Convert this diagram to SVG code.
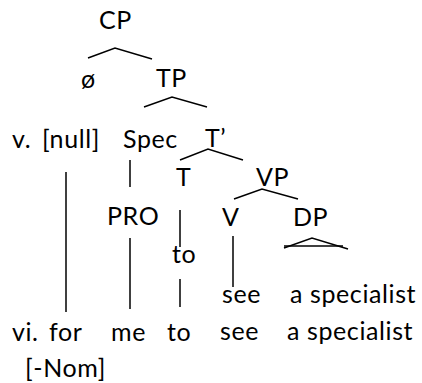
<svg xmlns="http://www.w3.org/2000/svg" width="422" height="383" viewBox="0 0 422 383">
<style>
text{font-family:Lato,"Open Sans",sans-serif;font-size:25px;letter-spacing:0.6px;fill:#000}
.e{stroke:#000;stroke-width:1.5;fill:none}
</style>
<rect width="422" height="383" fill="#fff"/>
<g id="connectors">
<polyline class="e" points="88,58 115,48 152,59"/>
<polyline class="e" points="144,107 172,97 207,107"/>
<polyline class="e" points="180,160 208,149 243,160"/>
<polyline class="e" points="234,199 262,189 298,199"/>
<polyline class="e" points="284,248 312,238 348,249"/>
<line class="e" x1="284" y1="246" x2="343" y2="246"/>
<line class="e" x1="66" y1="172" x2="66" y2="312"/>
<line class="e" x1="130" y1="160" x2="130" y2="187"/>
<line class="e" x1="130" y1="238" x2="130" y2="309"/>
<line class="e" x1="180" y1="210" x2="180" y2="247"/>
<line class="e" x1="180" y1="279" x2="180" y2="307"/>
<line class="e" x1="233" y1="236" x2="233" y2="287"/>
</g>
<g id="CP"><text x="99" y="29">CP</text></g>
<g id="null-C"><text x="81" y="88">ø</text></g>
<g id="TP"><text x="156" y="87">TP</text></g>
<g id="v-null"><text x="12" y="148">v.</text><text x="42" y="148">[null]</text></g>
<g id="Spec"><text x="123" y="148">Spec</text></g>
<g id="Tbar"><text x="205" y="147">T’</text></g>
<g id="T"><text x="176" y="186">T</text></g>
<g id="VP"><text x="256" y="186">VP</text></g>
<g id="PRO"><text x="107" y="225">PRO</text></g>
<g id="V"><text x="222" y="226">V</text></g>
<g id="DP"><text x="293" y="226">DP</text></g>
<g id="to"><text x="172" y="263">to</text></g>
<g id="see"><text x="222" y="303">see</text></g>
<g id="a-specialist"><text x="290" y="303">a specialist</text></g>
<g id="vi-line"><text x="12" y="341">vi.</text><text x="49" y="341">for</text><text x="111" y="341">me</text><text x="167" y="341">to</text><text x="220" y="340">see</text><text x="287" y="340">a specialist</text></g>
<g id="Nom"><text x="25" y="377">[-Nom]</text></g>
</svg>
